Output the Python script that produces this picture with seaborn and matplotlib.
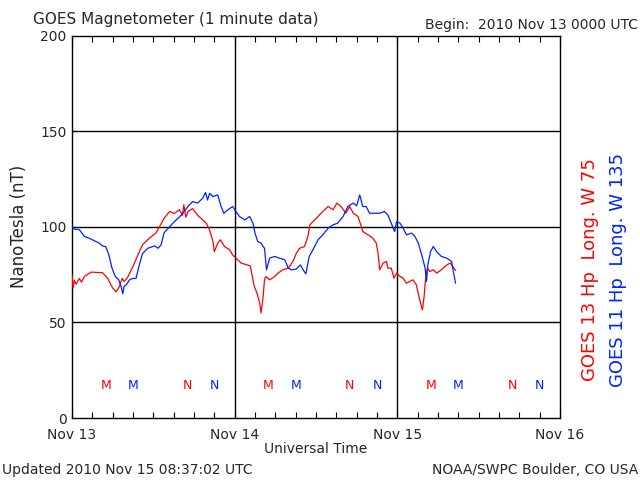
import numpy as np
import pandas as pd
import matplotlib
matplotlib.use("Agg")
import matplotlib.pyplot as plt
import seaborn as sns

# GOES magnetometer Hp, hours since 2010 Nov 13 00:00 UTC
red_hours = [0, 0.15, 0.34, 0.6, 1.08, 1.4, 1.82, 2.8, 4.5, 5.27, 6.0, 6.5, 7.0, 7.4, 7.7,
             8.2, 8.96, 9.7, 10.4, 11.4, 12.4, 12.9, 13.6, 14.4, 15.1, 15.85, 16.3, 16.5,
             16.8, 17.1, 17.8, 18.55, 19.3, 19.8, 20.3, 20.8, 21.0, 21.5, 21.9, 22.5, 23.25,
             23.7, 24.2, 24.97, 26.3, 26.7, 26.9, 27.3, 27.7, 27.9, 28.2, 28.4, 28.6, 29.15,
             29.9, 30.4, 31.1, 31.9, 32.6, 33.1, 33.6, 34.3, 34.8, 35.1, 35.55, 36.3, 37.0,
             37.8, 38.5, 39.1, 39.7, 40.4, 40.97, 41.5, 42.2, 42.7, 42.9, 43.7, 44.4, 44.9,
             45.15, 45.4, 45.9, 46.4, 46.6, 47.1, 47.5, 47.9, 48.4, 48.85, 49.35, 49.8, 50.3,
             50.8, 51.3, 51.7, 51.95, 52.15, 52.45, 52.8, 53.3, 53.8, 54.5, 55.3, 55.8, 56.2,
             56.6]
red_nt = [75, 68, 72, 70, 73, 71, 74, 76.3, 76, 73, 68, 66, 68.8, 73, 71.4,
          73.5, 79, 85, 90.6, 94, 96.8, 100, 104.5, 108, 107, 108.9, 106, 111.5,
          105, 108, 109.5, 106, 103.6, 101.9, 98.4, 92.3, 87, 91.4, 93.2, 89.7, 88,
          85.3, 83.6, 81, 79.6, 72.3, 68.8, 65.3, 60, 54.9, 63.5, 72.3, 74, 72.3,
          74, 75.8, 77.5, 78.4, 81.9, 86.2, 88.8, 89.7, 94.9, 101, 102.7, 105.4, 108,
          110.6, 108.9, 112.4, 110.6, 107.1, 110.6, 107.1, 105.4, 100, 97.5, 95.8, 94, 91.4,
          86.2, 77.5, 81, 81.9, 78.4, 78.4, 73.2, 75.8, 74, 73.2, 70.5, 71.4, 72.3,
          69.7, 61.8, 56.6, 63.5, 72.3, 78.4, 76.6, 77.5, 75.8, 77.5, 80.1, 81, 79.2,
          77.1]

blue_hours = [0, 0.34, 1.08, 1.82, 2.56, 3.3, 4.0, 4.5, 5.0, 5.5, 5.9, 6.4, 6.9, 7.3, 7.5,
              7.7, 8.0, 8.5, 8.96, 9.45, 9.85, 10.4, 11.2, 12.2, 12.7, 13.15, 13.6, 14.4,
              15.1, 16.1, 17.1, 17.8, 18.55, 19.3, 19.7, 20.0, 20.3, 20.8, 21.5, 22.0, 22.4,
              23.0, 23.7, 24.2, 24.7, 25.5, 26.2, 26.7, 27.0, 27.4, 27.9, 28.2, 28.4, 28.7,
              29.15, 29.9, 30.6, 31.4, 31.9, 32.4, 33.1, 33.7, 34.1, 34.5, 35.0, 35.55, 36.3,
              37.0, 37.8, 38.5, 39.2, 40.0, 40.7, 41.5, 42.0, 42.45, 42.9, 43.4, 43.9, 44.7,
              45.4, 46.1, 46.6, 47.1, 47.6, 47.9, 48.4, 48.85, 49.35, 50.1, 50.6, 51.1, 51.6,
              52.1, 52.3, 52.5, 52.9, 53.3, 53.8, 54.5, 55.3, 56.0, 56.4, 56.6]
blue_nt = [100.5, 98.8, 98.5, 95, 94, 92.7, 91.5, 90, 89.6, 84.5, 78.4, 74, 72.3, 68, 65,
           69, 69.6, 72.3, 73, 73, 79, 86, 88.8, 90, 88.8, 90.6, 97, 100,
           102.7, 106, 110.6, 113.2, 112.4, 115, 118, 114, 117.5, 115.8, 116.7, 110.6, 107.1,
           108.9, 110.6, 108, 105.4, 103.6, 105.4, 101.9, 96.7, 92.3, 91.4, 89.7, 88.8, 77.5,
           83.6, 84.5, 83.6, 82.7, 78.4, 77.5, 77.9, 80.1, 77.5, 75.4, 84.5, 88, 93.2,
           95.8, 99.3, 101, 101.9, 105.4, 110.6, 112.4, 111, 116.7, 110.6, 110.6, 107.1, 107.1,
           107.1, 108, 106.2, 101.9, 97.5, 102.7, 101.9, 99.3, 95.8, 96.7, 94.9, 91.4, 85.3,
           78.4, 71.4, 80.1, 87, 89.7, 87, 84.5, 83.6, 81.9, 74, 70.5]

# local midnight (M) / noon (N) markers
red_m_hours = [5, 29, 53]
red_n_hours = [17, 41, 65]
blue_m_hours = [9, 33, 57]
blue_n_hours = [21, 45, 69]

day_labels = ["Nov 13", "Nov 14", "Nov 15", "Nov 16"]

RED = "#ff0000"
BLUE = "#0022ff"

sns.set_style("white")
plt.rcParams["font.family"] = ["DejaVu Sans"]

fig = plt.figure(figsize=(6.4, 4.8), dpi=100)
ax = fig.add_axes([0.1125, 0.129, 0.7625, 0.797])

red_df = pd.DataFrame({"hours": red_hours, "nT": red_nt})
blue_df = pd.DataFrame({"hours": blue_hours, "nT": blue_nt})
sns.lineplot(data=red_df, x="hours", y="nT", ax=ax, color=RED, lw=0.9,
             estimator=None, sort=False, zorder=3)
sns.lineplot(data=blue_df, x="hours", y="nT", ax=ax, color=BLUE, lw=0.9,
             estimator=None, sort=False, zorder=3)

for hrs, letter, col in [(red_m_hours, "M", RED), (blue_m_hours, "M", BLUE),
                         (red_n_hours, "N", RED), (blue_n_hours, "N", BLUE)]:
    for h in hrs:
        ax.text(h, 17, letter, color=col, fontsize=9, ha="center", va="center")

ax.set_xlim(0, 72)
ax.set_ylim(0, 200)
ax.set_xticks([0, 24, 48, 72])
ax.set_xticklabels(day_labels)
ax.set_xticks(np.arange(0, 73, 3), minor=True)
ax.set_yticks([0, 50, 100, 150, 200])
ax.set_yticklabels(["0", "50", "100", "150", "200"])
ax.tick_params(axis="x", which="both", direction="in", top=True, bottom=True,
               length=4, width=0.8, labelsize=10, pad=7, color="black")
ax.tick_params(axis="y", length=0, labelsize=10, pad=4)
ax.set_xlabel("")
ax.set_ylabel("NanoTesla (nT)", fontsize=12, labelpad=9)

for d in [24, 48]:
    ax.axvline(d, color="black", lw=1.0, zorder=2)
for v in [50, 100, 150]:
    ax.axhline(v, color="black", lw=1.0, zorder=2)
for s in ax.spines.values():
    s.set_color("black")
    s.set_linewidth(1.0)

fig.text(33 / 640, 1 - 24 / 480, "GOES Magnetometer (1 minute data)", fontsize=11,
         ha="left", va="baseline")
fig.text(638 / 640, 1 - 29 / 480, "Begin:  2010 Nov 13 0000 UTC", fontsize=10,
         ha="right", va="baseline")
fig.text(316 / 640, 1 - 449 / 480, "Universal Time", fontsize=10, ha="center", va="center")
fig.text(2 / 640, 1 - 474 / 480, "Updated 2010 Nov 15 08:37:02 UTC", fontsize=10,
         ha="left", va="baseline")
fig.text(638 / 640, 1 - 474 / 480, "NOAA/SWPC Boulder, CO USA", fontsize=10,
         ha="right", va="baseline")
fig.text(590 / 640, 1 - 270 / 480, "GOES 13 Hp  Long. W 75", color=RED, fontsize=13,
         rotation=90, ha="center", va="center")
fig.text(618 / 640, 1 - 270 / 480, "GOES 11 Hp  Long. W 135", color=BLUE, fontsize=13,
         rotation=90, ha="center", va="center")

fig.savefig("out.png", dpi=100)
